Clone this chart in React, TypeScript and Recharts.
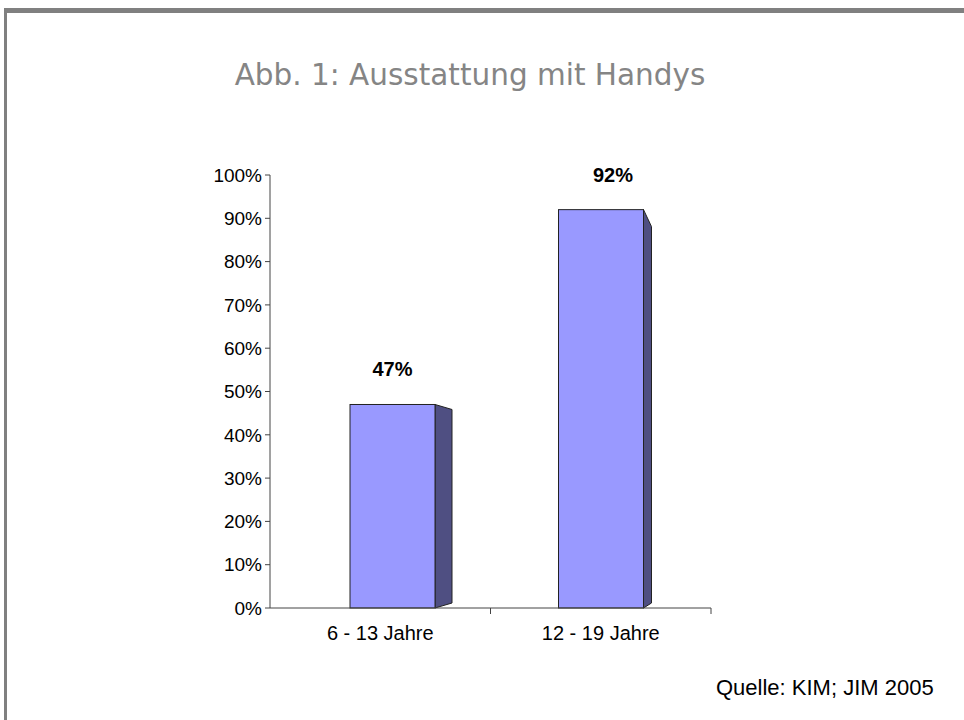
import { Bar, BarChart, LabelList, XAxis, YAxis } from 'recharts'

const groups = ['6 - 13 Jahre', '12 - 19 Jahre']
const shares = [47, 92]
const yTicks = [0, 10, 20, 30, 40, 50, 60, 70, 80, 90, 100]

const data = groups.map((name, i) => ({ name, share: shares[i] }))

// perspective: shift and side depth per bar
const barShift = [12, 0]
const sideDepth = [17, 8]

const font = 'Liberation Sans, Arial, sans-serif'

function Bar3D(props: any) {
  const { x, y, width, height, index } = props
  const fx = x + (barShift[index] ?? 0)
  const d = sideDepth[index] ?? 10
  const right = fx + width
  const side = `${right},${y} ${right + d},${y + 5 + (index === 1 ? 12 : 0)} ${right + d},${y + height - 5} ${right},${y + height}`
  return (
    <g>
      <polygon points={side} fill='#4f4f82' stroke='#222' strokeWidth={1} />
      <rect x={fx} y={y} width={width} height={height} fill='#9999ff' stroke='#222' strokeWidth={1} />
    </g>
  )
}

// category label plus a tick mark at the right edge of each band
function CatTick(props: any) {
  const { x, y, payload } = props
  const edge = x + (payload?.offset ?? 0)
  return (
    <g>
      <line x1={edge} y1={y - 18} x2={edge} y2={y - 12} stroke='#444' />
      <text x={x} y={y} dy='0.71em' textAnchor='middle' fill='#000' fontSize={20} fontFamily={font}>
        {payload.value}
      </text>
    </g>
  )
}

export default function App() {
  return (
    <div style={{ position: 'absolute', left: 0, top: 0, width: 964, height: 720, background: '#fff', overflow: 'hidden' }}>
      <div style={{ position: 'absolute', left: 4, top: 8, width: 960, height: 5, background: '#808080' }} />
      <div style={{ position: 'absolute', left: 4, top: 8, width: 3, height: 712, background: '#808080' }} />
      <div
        style={{
          position: 'absolute',
          left: 0,
          top: 58,
          width: 940,
          textAlign: 'center',
          fontFamily: 'DejaVu Sans, Verdana, sans-serif',
          fontSize: 29.5,
          color: '#858585',
        }}
      >
        Abb. 1: Ausstattung mit Handys
      </div>
      <BarChart
        width={964}
        height={720}
        data={data}
        margin={{ top: 175, right: 253, bottom: 82, left: 200 }}
      >
        <XAxis
          dataKey='name'
          axisLine={{ stroke: '#444' }}
          tickLine={false}
          tickSize={8}
          tickMargin={10}
          tick={<CatTick />}
        />
        <YAxis
          width={70}
          domain={[0, 100]}
          ticks={yTicks}
          interval={0}
          tickFormatter={(v: number) => `${v}%`}
          axisLine={{ stroke: '#444' }}
          tickLine={{ stroke: '#444' }}
          tickSize={5}
          tickMargin={3}
          tick={{ fill: '#000', fontSize: 19, fontFamily: font }}
        />
        <Bar dataKey='share' barSize={85} shape={<Bar3D />} isAnimationActive={false}>
          <LabelList
            dataKey='share'
            position='top'
            offset={28}
            dx={12}
            formatter={(v: any) => `${v}%`}
            style={{ fill: '#000', fontSize: 20, fontWeight: 'bold', fontFamily: font }}
          />
        </Bar>
      </BarChart>
      <div
        style={{
          position: 'absolute',
          left: 716,
          top: 675,
          fontFamily: font,
          fontSize: 22,
          color: '#000',
          whiteSpace: 'nowrap',
        }}
      >
        Quelle: KIM; JIM 2005
      </div>
    </div>
  )
}
